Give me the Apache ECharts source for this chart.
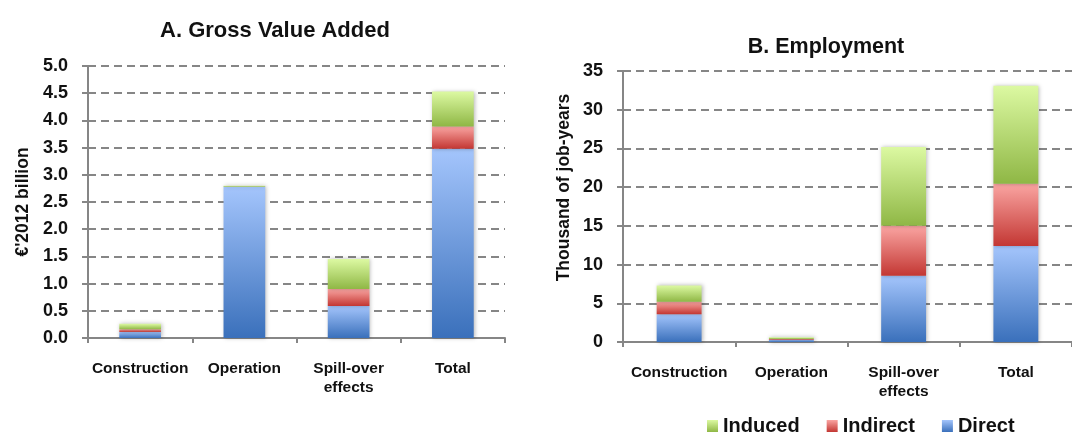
<!DOCTYPE html>
<html>
<head>
<meta charset="utf-8">
<script src="https://cdn.jsdelivr.net/npm/echarts@6/dist/echarts.min.js"></script>
<style>
  html, body { margin: 0; padding: 0; background: #ffffff; }
  #chart { width: 1072px; height: 433px; }
</style>
</head>
<body>
<div id="chart"></div>
<script>
// Economic impact by phase, broken down into direct / indirect / induced effects
const categories = ['Construction', 'Operation', 'Spill-over\neffects', 'Total'];

// Panel A: gross value added, €'2012 billion
const gvaDirect   = [0.11, 2.78, 0.59, 3.48];
const gvaIndirect = [0.05, 0.00, 0.31, 0.41];
const gvaInduced  = [0.10, 0.02, 0.55, 0.64];
const gvaTicks = { min: 0, max: 5, interval: 0.5 };

// Panel B: employment, thousand of job-years
const empDirect   = [3.6, 0.3, 8.55, 12.4];
const empIndirect = [1.6, 0.1, 6.45, 8.05];
const empInduced  = [2.1, 0.2, 10.2, 12.65];
const empTicks = { min: 0, max: 35, interval: 5 };

const FONT = '"Liberation Sans", Arial, Helvetica, sans-serif';
const AXIS_GREY = '#868686';

function grad(top, bottom) {
  return new echarts.graphic.LinearGradient(0, 0, 0, 1, [
    { offset: 0, color: top },
    { offset: 1, color: bottom }
  ]);
}
const colors = {
  Direct:   grad('#a4c5fc', '#3a70bb'),
  Indirect: grad('#faa5a2', '#c33733'),
  Induced:  grad('#dcf9a2', '#8fb745')
};

function xAxis(gridIndex) {
  return {
    type: 'category', gridIndex, data: categories,
    axisLine: { show: true, lineStyle: { color: AXIS_GREY, width: 2 } },
    axisTick: { show: true, alignWithLabel: false, length: 5, lineStyle: { color: AXIS_GREY, width: 2 } },
    axisLabel: { color: '#111', fontFamily: FONT, fontWeight: 'bold', fontSize: 15.5, margin: 21, lineHeight: 19, interval: 0 },
    splitLine: { show: false }
  };
}
function yAxis(gridIndex, ticks, name, gap, pad, digits) {
  return {
    type: 'value', gridIndex, min: ticks.min, max: ticks.max, interval: ticks.interval,
    name, nameLocation: 'middle', nameGap: gap,
    nameTextStyle: { color: '#111', fontFamily: FONT, fontWeight: 'bold', fontSize: 17.5, padding: pad },
    axisLine: { show: true, lineStyle: { color: AXIS_GREY, width: 2 } },
    axisTick: { show: true, length: 6, lineStyle: { color: AXIS_GREY, width: 2 } },
    axisLabel: { color: '#111', fontFamily: FONT, fontWeight: 'bold', fontSize: 18, margin: 20,
      formatter: v => v.toFixed(digits) },
    splitLine: { show: true, lineStyle: { color: AXIS_GREY, width: 2, type: [8, 5] } }
  };
}
function bar(name, data, axisIndex, stack) {
  return {
    name, type: 'bar', stack, data,
    xAxisIndex: axisIndex, yAxisIndex: axisIndex,
    barWidth: '40%',
    itemStyle: { color: colors[name], shadowBlur: 4, shadowColor: 'rgba(0,0,0,0.28)', shadowOffsetX: 1, shadowOffsetY: 0 },
    emphasis: { disabled: true },
    animation: false
  };
}

const chart = echarts.init(document.getElementById('chart'), null, { renderer: 'canvas' });
chart.setOption({
  backgroundColor: '#ffffff',
  animation: false,
  title: [
    { text: 'A. Gross Value Added', left: 270, top: 15, textAlign: 'center',
      textStyle: { fontFamily: FONT, fontWeight: 'bold', fontSize: 22, color: '#111' } },
    { text: 'B. Employment', left: 821, top: 31, textAlign: 'center',
      textStyle: { fontFamily: FONT, fontWeight: 'bold', fontSize: 21.5, color: '#111' } }
  ],
  legend: {
    data: ['Induced', 'Indirect', 'Direct'],
    left: 702, top: 411, orient: 'horizontal',
    icon: 'rect', itemWidth: 11, itemHeight: 12, itemGap: 27,
    textStyle: { fontFamily: FONT, fontWeight: 'bold', fontSize: 20, color: '#111' }
  },
  grid: [
    { left: 88, top: 66, width: 417, height: 272 },
    { left: 623, top: 71, width: 452, height: 271 }
  ],
  xAxis: [xAxis(0), xAxis(1)],
  yAxis: [
    yAxis(0, gvaTicks, "€'2012 billion", 56, [0, 0, 0, 0], 1),
    yAxis(1, empTicks, 'Thousand of job-years', 50, [0, 0, 0, 38], 0)
  ],
  series: [
    bar('Direct', gvaDirect, 0, 'gva'),
    bar('Indirect', gvaIndirect, 0, 'gva'),
    bar('Induced', gvaInduced, 0, 'gva'),
    bar('Direct', empDirect, 1, 'emp'),
    bar('Indirect', empIndirect, 1, 'emp'),
    bar('Induced', empInduced, 1, 'emp')
  ]
});
</script>
</body>
</html>
